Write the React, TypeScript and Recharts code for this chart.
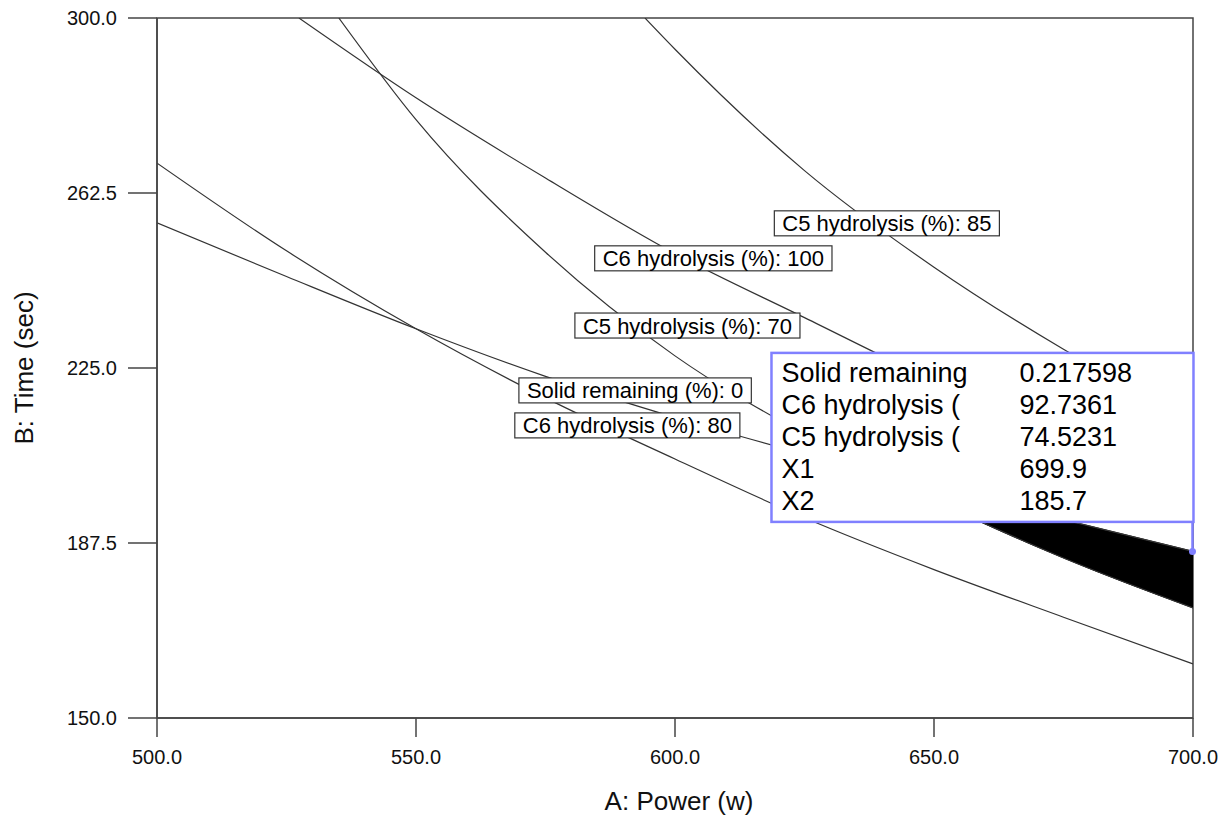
import { ComposedChart, Line, Area, XAxis, YAxis, ReferenceArea, ReferenceDot, Label } from "recharts";

const FONT = "'Liberation Sans', Arial, sans-serif";

const powerTicks = [500, 550, 600, 650, 700];
const timeTicks = [150, 187.5, 225, 262.5, 300];

// contours crossing the left edge
const gridPower = [500, 525, 550, 575, 600, 625, 650, 675, 700];
const solidZeroTime = [256.1, 244.6, 233.4, 223.2, 214.4, 206.6, 199.4, 192.5, 185.7];
const c6EightyTime = [268.9, 250.1, 233.4, 218.6, 205.5, 192.9, 181.8, 171.6, 161.6];

// contours entering from the top edge
const c6HundredPower = [527.4, 550, 575, 600, 625, 650, 675, 700];
const c6HundredTime = [300, 282.9, 265.7, 249.5, 235.8, 222.2, 209.7, 198.1];

const c5SeventyPower = [535.1, 550, 575, 600, 625, 650, 675, 700];
const c5SeventyTime = [300, 278.2, 249.8, 227.6, 210.8, 196.7, 184.3, 173.6];

const c5EightyFivePower = [594.2, 600, 625, 650, 675, 700];
const c5EightyFiveTime = [300, 293.3, 267.3, 246.6, 229.0, 213.7];

// shaded region between C5 = 70 and solid remaining = 0
const bandPower = [640, 650, 675, 700];
const bandLow = [202.3, 196.7, 184.3, 173.6];
const bandHigh = [202.3, 199.4, 192.5, 185.7];

// contour tags
const tagText = [
    "C5 hydrolysis (%): 85",
    "C6 hydrolysis (%): 100",
    "C5 hydrolysis (%): 70",
    "Solid remaining (%): 0",
    "C6 hydrolysis (%): 80",
];
const tagPower = [640.9, 607.4, 602.4, 592.3, 590.8];
const tagTime = [256.0, 248.5, 234.1, 220.2, 212.7];

// flagged point
const flagPower = 699.9;
const flagTime = 185.7;
const flagNames = ["Solid remaining", "C6 hydrolysis (", "C5 hydrolysis (", "X1", "X2"];
const flagValues = ["0.217598", "92.7361", "74.5231", "699.9", "185.7"];

const pts = (xs: number[], ys: number[]) => xs.map((p, i) => ({ power: p, time: ys[i] }));
const band = bandPower.map((p, i) => ({ power: p, band: [bandLow[i], bandHigh[i]] }));

let ctx: CanvasRenderingContext2D | null = null;
function textWidth(text: string, size: number) {
    if (!ctx) ctx = document.createElement("canvas").getContext("2d");
    if (!ctx) return text.length * size * 0.5;
    ctx.font = `${size}px 'Liberation Sans', Arial, sans-serif`;
    return ctx.measureText(text).width;
}

function ContourTag(props: any) {
    const { cx, cy, text } = props;
    const w = textWidth(text, 22) + 16;
    const h = 25;
    return (
        <g>
            <rect x={cx - w / 2} y={cy - h / 2} width={w} height={h} fill="#fff" stroke="#333" strokeWidth={1.2} />
            <text x={cx} y={cy + 8} textAnchor="middle" fontSize={22} fontFamily={FONT} fill="#000">
                {text}
            </text>
        </g>
    );
}

const PURPLE = "#8080ff";

function FlagBox(props: any) {
    const { cx, cy } = props;
    const left = cx - 421;
    const top = cy - 198.5;
    return (
        <g>
            <line x1={cx} y1={cy} x2={cx} y2={cy - 30} stroke={PURPLE} strokeWidth={2.5} />
            <rect x={left} y={top} width={422} height={169} fill="#fff" stroke={PURPLE} strokeWidth={2.5} />
            <circle cx={cx} cy={cy} r={3.5} fill={PURPLE} />
            {flagNames.map((n, i) => (
                <text key={n} x={left + 10} y={top + 29 + i * 32} fontSize={27} fontFamily={FONT} fill="#000">
                    {n}
                </text>
            ))}
            {flagValues.map((v, i) => (
                <text key={"v" + i} x={left + 248} y={top + 29 + i * 32} fontSize={27} fontFamily={FONT} fill="#000">
                    {v}
                </text>
            ))}
        </g>
    );
}

const lineProps = {
    dataKey: "time",
    type: "monotone" as const,
    stroke: "#333",
    strokeWidth: 1.2,
    dot: false,
    activeDot: false,
    isAnimationActive: false,
};

export default function App() {
    return (
        <div style={{ position: "absolute", left: 0, top: 0, background: "#fff" }}>
            <ComposedChart width={1227} height={817} margin={{ top: 18, right: 34, bottom: 0, left: 0 }}>
                <XAxis
                    type="number"
                    dataKey="power"
                    domain={[500, 700]}
                    ticks={powerTicks}
                    allowDataOverflow
                    height={99}
                    tickSize={19}
                    tickMargin={13}
                    tickFormatter={(v: number) => v.toFixed(1)}
                    tick={{ fontSize: 20, fill: "#111", fontFamily: FONT }}
                    stroke="#444"
                    strokeWidth={1.5}
                >
                    <Label value="A: Power (w)" position="insideBottom" offset={7} dx={4} fontSize={26} fontFamily={FONT} fill="#111" />
                </XAxis>
                <YAxis
                    type="number"
                    domain={[150, 300]}
                    ticks={timeTicks}
                    allowDataOverflow
                    width={157}
                    tickSize={29}
                    tickMargin={11}
                    tickFormatter={(v: number) => v.toFixed(1)}
                    tick={{ fontSize: 20, fill: "#111", fontFamily: FONT }}
                    stroke="#444"
                    strokeWidth={1.5}
                >
                    <Label
                        value="B: Time (sec)"
                        angle={-90}
                        position="insideLeft"
                        offset={24}
                        fontSize={26}
                        fontFamily={FONT}
                        fill="#111"
                        style={{ textAnchor: "middle" }}
                    />
                </YAxis>
                <ReferenceArea x1={500} x2={700} y1={150} y2={300} fill="none" stroke="#444" strokeWidth={1.5} fillOpacity={0} />
                <Area
                    data={band}
                    dataKey="band"
                    type="monotone"
                    fill="#000"
                    fillOpacity={1}
                    stroke="#000"
                    strokeWidth={1}
                    isAnimationActive={false}
                    activeDot={false}
                />
                <Line {...lineProps} data={pts(gridPower, solidZeroTime)} />
                <Line {...lineProps} data={pts(gridPower, c6EightyTime)} />
                <Line {...lineProps} data={pts(c6HundredPower, c6HundredTime)} />
                <Line {...lineProps} data={pts(c5SeventyPower, c5SeventyTime)} />
                <Line {...lineProps} data={pts(c5EightyFivePower, c5EightyFiveTime)} />
                {tagText.map((t, i) => (
                    <ReferenceDot
                        key={t}
                        x={tagPower[i]}
                        y={tagTime[i]}
                        r={0}
                        shape={(p: any) => <ContourTag {...p} text={t} />}
                    />
                ))}
                <ReferenceDot x={flagPower} y={flagTime} r={0} shape={(p: any) => <FlagBox {...p} />} />
            </ComposedChart>
        </div>
    );
}
